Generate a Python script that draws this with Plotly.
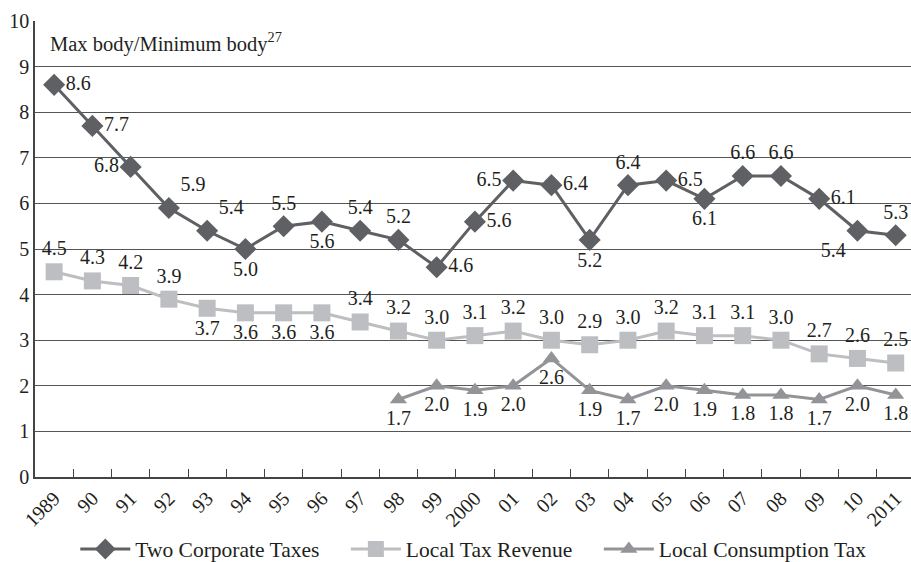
import plotly.graph_objects as go

years = ["1989", "90", "91", "92", "93", "94", "95", "96", "97", "98", "99", "2000",
         "01", "02", "03", "04", "05", "06", "07", "08", "09", "10", "2011"]
corporate = [8.6, 7.7, 6.8, 5.9, 5.4, 5.0, 5.5, 5.6, 5.4, 5.2, 4.6, 5.6,
             6.5, 6.4, 5.2, 6.4, 6.5, 6.1, 6.6, 6.6, 6.1, 5.4, 5.3]
local_revenue = [4.5, 4.3, 4.2, 3.9, 3.7, 3.6, 3.6, 3.6, 3.4, 3.2, 3.0, 3.1,
                 3.2, 3.0, 2.9, 3.0, 3.2, 3.1, 3.1, 3.0, 2.7, 2.6, 2.5]
consumption_years = years[9:]
consumption = [1.7, 2.0, 1.9, 2.0, 2.6, 1.9, 1.7, 2.0, 1.9, 1.8, 1.8, 1.7, 2.0, 1.8]
series_names = ["Two Corporate Taxes", "Local Tax Revenue", "Local Consumption Tax"]

corp_pos = ["middle right", "middle right", "middle left", "top right", "top right",
            "bottom center", "top center", "bottom center", "top center", "top center",
            "middle right", "middle right", "middle left", "middle right", "bottom center",
            "top center", "middle right", "bottom center", "top center", "top center",
            "middle right", "bottom left", "top center"]
rev_pos = ["top center"] * 4 + ["bottom center"] * 4 + ["top center"] * 15

FONT = "Liberation Serif"
TXT = "#231f20"
LBL = 20
PAD = "\u00a0" * 4

fig = go.Figure()
fig.add_trace(go.Scatter(
    x=years, y=corporate, name=series_names[0] + PAD, mode="lines+markers+text",
    line=dict(color="#5f6064", width=3),
    marker=dict(symbol="diamond", size=17, color="#5f6064"),
    text=[f"{v:.1f}" for v in corporate], textposition=corp_pos,
    textfont=dict(family=FONT, size=LBL, color=TXT), cliponaxis=False))
fig.add_trace(go.Scatter(
    x=years, y=local_revenue, name=series_names[1] + PAD, mode="lines+markers+text",
    line=dict(color="#bdbec2", width=3),
    marker=dict(symbol="square", size=17, color="#bdbec2"),
    text=[f"{v:.1f}" for v in local_revenue], textposition=rev_pos,
    textfont=dict(family=FONT, size=LBL, color=TXT), cliponaxis=False))
fig.add_trace(go.Scatter(
    x=consumption_years, y=consumption, name=series_names[2], mode="lines+markers+text",
    line=dict(color="#939497", width=3),
    marker=dict(symbol="triangle-up", size=15, color="#939497"),
    text=[f"{v:.1f}" for v in consumption], textposition="bottom center",
    textfont=dict(family=FONT, size=LBL, color=TXT), cliponaxis=False))

fig.update_layout(
    width=911, height=562,
    margin=dict(l=35, r=0, t=21, b=85, autoexpand=False),
    paper_bgcolor="white", plot_bgcolor="white",
    font=dict(family=FONT, size=LBL, color=TXT),
    showlegend=True,
    legend=dict(orientation="h", x=0.046, xanchor="left", y=-0.158, yanchor="middle",
                font=dict(family=FONT, size=21.5, color=TXT), itemwidth=50),
    annotations=[dict(text="Max body/Minimum body<sup>27</sup>", xref="paper", yref="paper",
                      x=0.015, y=0.952, xanchor="left", yanchor="middle", showarrow=False,
                      font=dict(family=FONT, size=20.5, color=TXT))],
)
fig.update_xaxes(type="category", categoryorder="array", categoryarray=years,
                 range=[-0.5, 22.4], tickangle=-45, ticks="inside", ticklen=8,
                 tickson="boundaries", tickcolor="#444", showgrid=False, automargin=False,
                 showline=True, linecolor="#444", linewidth=1.5,
                 tickfont=dict(family=FONT, size=LBL, color=TXT))
fig.update_yaxes(range=[0, 10], dtick=1, showgrid=True, gridcolor="#555", gridwidth=1.3,
                 showline=True, linecolor="#444", linewidth=1.5, ticks="", automargin=False,
                 zeroline=False, tickfont=dict(family=FONT, size=LBL, color=TXT))

fig.write_html("out.html", config={"displayModeBar": False},
               post_script="document.body.style.margin='0';document.body.style.overflow='hidden';")
